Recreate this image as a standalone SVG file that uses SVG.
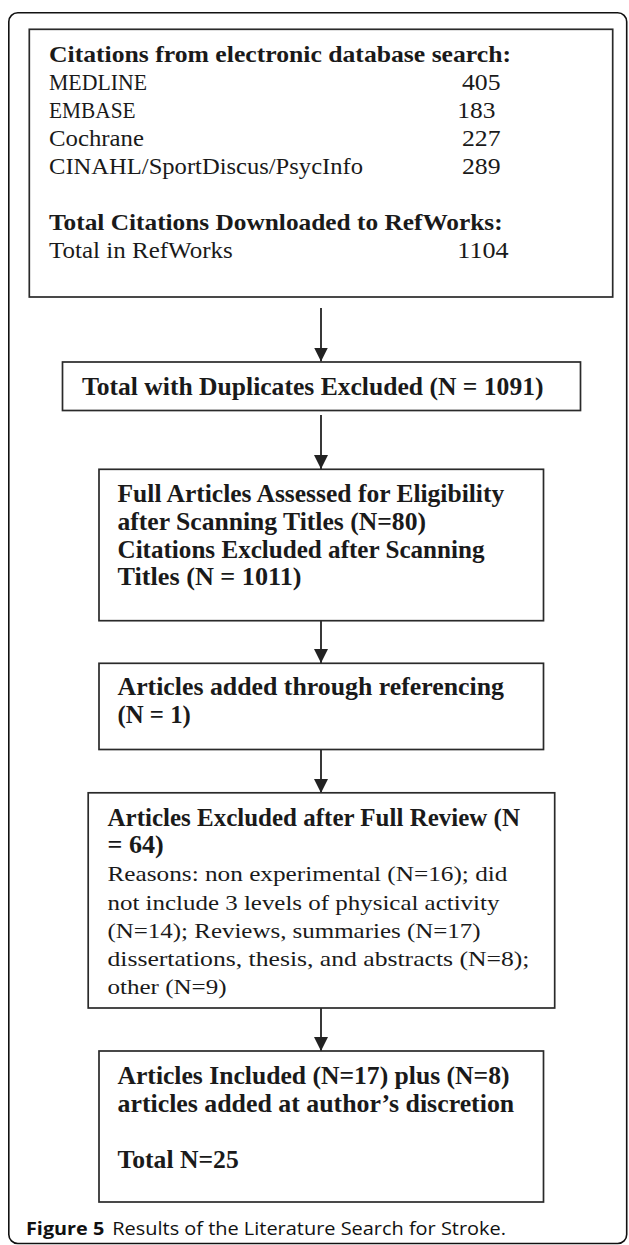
<svg xmlns="http://www.w3.org/2000/svg" width="629" height="1245" viewBox="0 0 629 1245">
<style>
.frame{fill:none;stroke:#111;stroke-width:1.6}
.box{fill:#fff;stroke:#2a2a2a;stroke-width:1.7}
.t{font-family:"Liberation Serif","Times New Roman",serif;font-size:24.5px;fill:#1a1a1a}
.s1{font-size:23.5px}
.s2{font-size:25px}
.sr{font-size:21.5px}
.b{font-weight:bold}
.cap{font-family:"Open Sans","Liberation Sans",sans-serif;font-size:18px;fill:#111}
.edge{stroke:#222;stroke-width:1.8;fill:none}
</style>
<defs>
<marker id="ah" markerUnits="userSpaceOnUse" markerWidth="14" markerHeight="14" refX="14" refY="7" orient="auto">
<path d="M0,0 L14,7 L0,14 z" fill="#222"/>
</marker>
</defs>
<rect class="frame" x="8.8" y="12.7" width="617.9" height="1230.8" rx="9" ry="9"/>
<g id="connectors">
<line class="edge" x1="321" y1="308" x2="321" y2="361.5" marker-end="url(#ah)"/>
<line class="edge" x1="321" y1="415" x2="321" y2="469" marker-end="url(#ah)"/>
<line class="edge" x1="321" y1="621" x2="321" y2="663" marker-end="url(#ah)"/>
<line class="edge" x1="321" y1="750" x2="321" y2="793" marker-end="url(#ah)"/>
<line class="edge" x1="321" y1="1008" x2="321" y2="1051" marker-end="url(#ah)"/>
</g>
<g id="search">
<rect class="box" x="29.3" y="29.3" width="583.4" height="267.7"/>
<text class="t s1 b" x="49" y="61.5" textLength="462" lengthAdjust="spacingAndGlyphs">Citations from electronic database search:</text>
<text class="t s1" x="49" y="90" textLength="98" lengthAdjust="spacingAndGlyphs">MEDLINE</text>
<text class="t s1" x="462" y="90" textLength="38.6" lengthAdjust="spacingAndGlyphs">405</text>
<text class="t s1" x="49" y="118" textLength="86.6" lengthAdjust="spacingAndGlyphs">EMBASE</text>
<text class="t s1" x="457.3" y="118" textLength="38.1" lengthAdjust="spacingAndGlyphs">183</text>
<text class="t s1" x="49" y="146" textLength="95" lengthAdjust="spacingAndGlyphs">Cochrane</text>
<text class="t s1" x="462" y="146" textLength="38.6" lengthAdjust="spacingAndGlyphs">227</text>
<text class="t s1" x="49" y="174" textLength="314" lengthAdjust="spacingAndGlyphs">CINAHL/SportDiscus/PsycInfo</text>
<text class="t s1" x="462" y="174" textLength="38.6" lengthAdjust="spacingAndGlyphs">289</text>
<text class="t s1 b" x="49" y="230" textLength="453.6" lengthAdjust="spacingAndGlyphs">Total Citations Downloaded to RefWorks:</text>
<text class="t s1" x="49" y="258" textLength="183.7" lengthAdjust="spacingAndGlyphs">Total in RefWorks</text>
<text class="t s1" x="457.3" y="258" textLength="51.3" lengthAdjust="spacingAndGlyphs">1104</text>
</g>
<g id="dedup">
<rect class="box" x="62.5" y="362" width="518" height="48.5"/>
<text class="t s2 b" x="82" y="395" textLength="461.5" lengthAdjust="spacingAndGlyphs">Total with Duplicates Excluded (N = 1091)</text>
</g>
<g id="screened">
<rect class="box" x="99" y="469.3" width="444.5" height="151.4"/>
<text class="t b" x="117.5" y="502" textLength="386.7" lengthAdjust="spacingAndGlyphs">Full Articles Assessed for Eligibility</text>
<text class="t b" x="117.5" y="530" textLength="308.5" lengthAdjust="spacingAndGlyphs">after Scanning Titles (N=80)</text>
<text class="t b" x="117.5" y="557.5" textLength="367" lengthAdjust="spacingAndGlyphs">Citations Excluded after Scanning</text>
<text class="t b" x="117.5" y="585" textLength="184" lengthAdjust="spacingAndGlyphs">Titles (N = 1011)</text>
</g>
<g id="referencing">
<rect class="box" x="99" y="663.3" width="444.5" height="86.2"/>
<text class="t b" x="117.5" y="695" textLength="386.5" lengthAdjust="spacingAndGlyphs">Articles added through referencing</text>
<text class="t b" x="117.5" y="723" textLength="73.3" lengthAdjust="spacingAndGlyphs">(N = 1)</text>
</g>
<g id="excluded">
<rect class="box" x="88.2" y="792.8" width="466.5" height="215.2"/>
<text class="t b" x="107.5" y="825.5" textLength="412.5" lengthAdjust="spacingAndGlyphs">Articles Excluded after Full Review (N</text>
<text class="t b" x="107.5" y="853" textLength="56.2" lengthAdjust="spacingAndGlyphs">= 64)</text>
<text class="t sr" x="107.5" y="881" textLength="399.9" lengthAdjust="spacingAndGlyphs">Reasons: non experimental (N=16); did</text>
<text class="t sr" x="107.5" y="909.5" textLength="391.9" lengthAdjust="spacingAndGlyphs">not include 3 levels of physical activity</text>
<text class="t sr" x="107.5" y="937.7" textLength="373" lengthAdjust="spacingAndGlyphs">(N=14); Reviews, summaries (N=17)</text>
<text class="t sr" x="107.5" y="965.8" textLength="422" lengthAdjust="spacingAndGlyphs">dissertations, thesis, and abstracts (N=8);</text>
<text class="t sr" x="107.5" y="993.5" textLength="119.1" lengthAdjust="spacingAndGlyphs">other (N=9)</text>
</g>
<g id="included">
<rect class="box" x="99" y="1051" width="444.5" height="151"/>
<text class="t s2 b" x="117.5" y="1084" textLength="392" lengthAdjust="spacingAndGlyphs">Articles Included (N=17) plus (N=8)</text>
<text class="t s2 b" x="117.5" y="1112" textLength="396.7" lengthAdjust="spacingAndGlyphs">articles added at author’s discretion</text>
<text class="t s2 b" x="117.5" y="1168" textLength="121.2" lengthAdjust="spacingAndGlyphs">Total N=25</text>
</g>
<g id="caption">
<text class="cap b" x="26" y="1235" textLength="78.3" lengthAdjust="spacingAndGlyphs">Figure 5</text>
<text class="cap" x="112.3" y="1235" textLength="393.7" lengthAdjust="spacingAndGlyphs">Results of the Literature Search for Stroke.</text>
</g>
</svg>
